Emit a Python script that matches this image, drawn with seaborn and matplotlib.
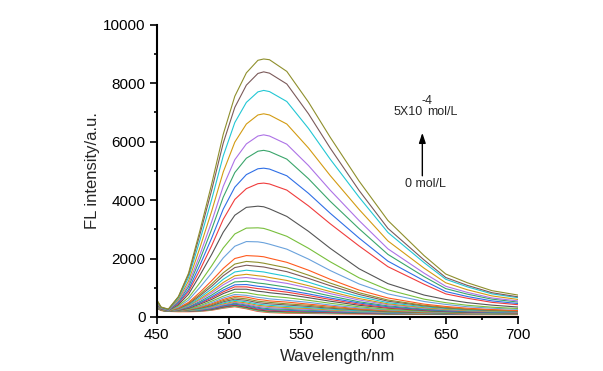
import matplotlib
matplotlib.use("Agg")
import matplotlib.pyplot as plt
import matplotlib.ticker as mticker
import pandas as pd
import seaborn as sns

# wavelength grid (nm) the spectra were read at
WAVELENGTH = [450, 453, 458, 465, 472, 480, 488, 496, 504, 512, 520, 524,
              528, 540, 555, 570, 590, 610, 635, 650, 665, 682, 700]

# FL intensity, c00 = 0 mol/L ... c35 = 5x10^-4 mol/L
c00 = [310, 220, 190, 180, 180, 190, 230, 300, 350, 280, 190, 170, 150, 130, 120, 110, 100, 90, 90, 85, 80, 80, 80]
c01 = [320, 230, 200, 190, 190, 200, 245, 315, 370, 300, 210, 190, 170, 150, 140, 125, 115, 105, 100, 98, 95, 92, 90]
c02 = [330, 230, 200, 190, 190, 210, 250, 330, 380, 310, 230, 200, 180, 160, 150, 140, 120, 110, 100, 95, 90, 90, 90]
c03 = [330, 230, 200, 190, 200, 220, 260, 340, 400, 330, 250, 220, 200, 180, 170, 150, 130, 110, 110, 100, 95, 92, 90]
c04 = [330, 230, 200, 190, 200, 220, 280, 360, 420, 360, 270, 250, 230, 200, 190, 160, 140, 120, 110, 105, 100, 98, 95]
c05 = [330, 230, 200, 200, 210, 230, 290, 380, 440, 380, 300, 270, 250, 230, 200, 180, 150, 130, 120, 110, 100, 100, 100]
c06 = [330, 230, 200, 200, 210, 240, 310, 400, 470, 410, 330, 300, 280, 260, 230, 200, 160, 140, 120, 110, 100, 100, 100]
c07 = [330, 230, 200, 200, 220, 260, 320, 420, 500, 440, 360, 340, 320, 290, 260, 220, 180, 150, 130, 120, 110, 105, 100]
c08 = [340, 230, 200, 200, 220, 270, 350, 450, 530, 480, 400, 380, 360, 320, 290, 240, 200, 160, 140, 125, 110, 105, 100]
c09 = [340, 230, 200, 210, 230, 280, 370, 480, 570, 520, 440, 420, 400, 360, 320, 270, 210, 170, 140, 130, 120, 115, 110]
c10 = [340, 230, 200, 210, 240, 300, 390, 520, 610, 570, 490, 470, 450, 410, 360, 300, 240, 180, 150, 135, 120, 115, 110]
c11 = [340, 230, 200, 210, 250, 320, 420, 560, 660, 620, 540, 520, 500, 450, 400, 330, 260, 200, 160, 145, 130, 120, 110]
c12 = [340, 240, 200, 220, 260, 340, 450, 600, 710, 680, 600, 580, 550, 510, 440, 370, 280, 220, 170, 150, 130, 125, 120]
c13 = [340, 240, 200, 220, 270, 360, 490, 650, 770, 740, 670, 650, 620, 570, 500, 410, 310, 240, 180, 158, 140, 130, 120]
c14 = [350, 240, 200, 230, 280, 390, 540, 710, 850, 830, 760, 740, 710, 660, 570, 470, 350, 260, 200, 170, 150, 138, 130]
c15 = [350, 240, 200, 230, 300, 440, 600, 800, 950, 950, 880, 860, 830, 770, 660, 540, 400, 300, 220, 185, 160, 148, 140]
c16 = [350, 240, 210, 240, 320, 470, 650, 860, 1030, 1030, 970, 950, 920, 850, 730, 600, 440, 320, 240, 205, 180, 158, 140]
c17 = [360, 240, 210, 250, 330, 490, 690, 920, 1100, 1110, 1050, 1030, 1000, 920, 790, 650, 480, 350, 250, 210, 180, 162, 150]
c18 = [360, 240, 210, 250, 350, 530, 750, 1000, 1200, 1220, 1160, 1140, 1110, 1020, 880, 720, 520, 380, 270, 230, 200, 175, 160]
c19 = [360, 240, 210, 260, 370, 580, 820, 1100, 1320, 1350, 1300, 1280, 1240, 1150, 990, 800, 580, 420, 300, 250, 210, 185, 170]
c20 = [370, 240, 210, 270, 390, 620, 880, 1180, 1410, 1460, 1410, 1390, 1350, 1250, 1070, 870, 630, 450, 320, 265, 220, 195, 180]
c21 = [370, 250, 210, 280, 410, 670, 960, 1290, 1540, 1600, 1560, 1540, 1500, 1390, 1190, 960, 700, 490, 350, 290, 240, 210, 190]
c22 = [380, 250, 210, 290, 440, 730, 1050, 1410, 1690, 1770, 1730, 1710, 1670, 1550, 1320, 1070, 770, 540, 380, 310, 260, 225, 200]
c23 = [380, 250, 210, 300, 470, 780, 1130, 1510, 1810, 1900, 1870, 1840, 1800, 1680, 1430, 1160, 830, 580, 400, 330, 270, 235, 210]
c24 = [390, 250, 220, 310, 500, 850, 1240, 1660, 2000, 2100, 2080, 2060, 2010, 1870, 1600, 1290, 920, 650, 440, 360, 300, 255, 220]
c25 = [400, 260, 220, 340, 580, 1020, 1500, 2020, 2420, 2580, 2570, 2540, 2490, 2320, 1980, 1590, 1130, 790, 530, 430, 350, 300, 260]
c26 = [420, 260, 220, 380, 660, 1180, 1750, 2360, 2840, 3040, 3050, 3030, 2970, 2760, 2350, 1890, 1340, 930, 610, 490, 400, 335, 290]
c27 = [440, 270, 230, 420, 780, 1440, 2140, 2900, 3480, 3750, 3790, 3770, 3700, 3440, 2930, 2350, 1650, 1140, 750, 600, 490, 405, 340]
c28 = [460, 280, 230, 460, 870, 1620, 2440, 3340, 4020, 4390, 4560, 4580, 4550, 4340, 3800, 3190, 2430, 1720, 1120, 790, 640, 500, 420]
c29 = [470, 290, 230, 490, 940, 1790, 2700, 3690, 4440, 4870, 5070, 5090, 5060, 4830, 4230, 3550, 2700, 1910, 1240, 870, 700, 550, 460]
c30 = [490, 300, 240, 530, 1040, 1980, 3000, 4100, 4940, 5430, 5670, 5700, 5660, 5400, 4730, 3960, 3020, 2140, 1380, 970, 780, 610, 510]
c31 = [500, 300, 240, 560, 1120, 2150, 3260, 4470, 5380, 5920, 6190, 6230, 6190, 5910, 5180, 4340, 3300, 2330, 1500, 1050, 840, 650, 550]
c32 = [530, 310, 250, 600, 1230, 2390, 3620, 4960, 5980, 6600, 6910, 6950, 6910, 6600, 5780, 4840, 3680, 2600, 1670, 1170, 930, 720, 600]
c33 = [550, 320, 250, 650, 1350, 2650, 4020, 5510, 6650, 7340, 7700, 7750, 7710, 7370, 6450, 5400, 4100, 2890, 1860, 1290, 1030, 790, 660]
c34 = [570, 330, 260, 690, 1450, 2850, 4340, 5950, 7170, 7930, 8330, 8385, 8340, 7970, 6950, 5780, 4330, 3030, 1950, 1350, 1080, 830, 690]
c35 = [590, 340, 270, 700, 1500, 2980, 4550, 6250, 7550, 8350, 8780, 8825, 8800, 8400, 7350, 6150, 4650, 3300, 2100, 1470, 1170, 900, 750]

SPECTRA = [c00, c01, c02, c03, c04, c05, c06, c07, c08, c09, c10, c11,
           c12, c13, c14, c15, c16, c17, c18, c19, c20, c21, c22, c23,
           c24, c25, c26, c27, c28, c29, c30, c31, c32, c33, c34, c35]

# colour cycle, counted from the top spectrum downwards
LINE_COLORS = ["#8f8f2c", "#7b5a5a", "#22c7d4", "#d39b12", "#ad72e6", "#3aa56b",
               "#2f6fe6", "#f03c3c", "#555555", "#78bf3c", "#6aa2dc", "#ff5a1e"]

rows = []
for k, spec in enumerate(SPECTRA):
    for wl, v in zip(WAVELENGTH, spec):
        rows.append({"wl": wl, "fl": v, "step": k})
df = pd.DataFrame(rows)

n = len(SPECTRA)
palette = {k: LINE_COLORS[(n - 1 - k) % len(LINE_COLORS)] for k in range(n)}

sns.set_style("ticks")
plt.rcParams["font.family"] = ["Liberation Sans", "DejaVu Sans"]

fig = plt.figure(figsize=(6.03, 3.71), dpi=100)
ax = fig.add_axes([0.260, 0.1456, 0.599, 0.788])

sns.lineplot(data=df, x="wl", y="fl", hue="step", palette=palette,
             estimator=None, sort=False, legend=False, lw=0.8, ax=ax)

ax.set_xlim(450, 700)
ax.set_ylim(0, 10000)
ax.xaxis.set_major_locator(mticker.MultipleLocator(50))
ax.xaxis.set_minor_locator(mticker.MultipleLocator(25))
ax.yaxis.set_major_locator(mticker.MultipleLocator(2000))
ax.yaxis.set_minor_locator(mticker.MultipleLocator(1000))

for side in ["top", "right"]:
    ax.spines[side].set_visible(False)
for side in ["left", "bottom"]:
    ax.spines[side].set_linewidth(1.5)
    ax.spines[side].set_color("black")

ax.tick_params(which="major", direction="out", length=5, width=1.2, labelsize=11, pad=3, colors="black")
ax.tick_params(which="minor", direction="out", length=2.5, width=1.2, colors="black")

ax.set_xlabel("Wavelength/nm", fontsize=12, labelpad=5)
ax.set_ylabel("FL intensity/a.u.", fontsize=12, labelpad=2)

# concentration annotation
ax.text(613.6, 7020, "5X10", fontsize=9, ha="left", va="center")
ax.text(633.0, 7400, "-4", fontsize=9, ha="left", va="center")
ax.text(637.4, 7020, "mol/L", fontsize=9, ha="left", va="center")
ax.annotate("", xy=(633.8, 6300), xytext=(633.8, 4830),
            arrowprops=dict(arrowstyle="-|>,head_length=0.6,head_width=0.2",
                            color="black", lw=1.0, shrinkA=0, shrinkB=0))
ax.text(621.9, 4555, "0 mol/L", fontsize=9, ha="left", va="center")

fig.savefig("out.png", dpi=100)
